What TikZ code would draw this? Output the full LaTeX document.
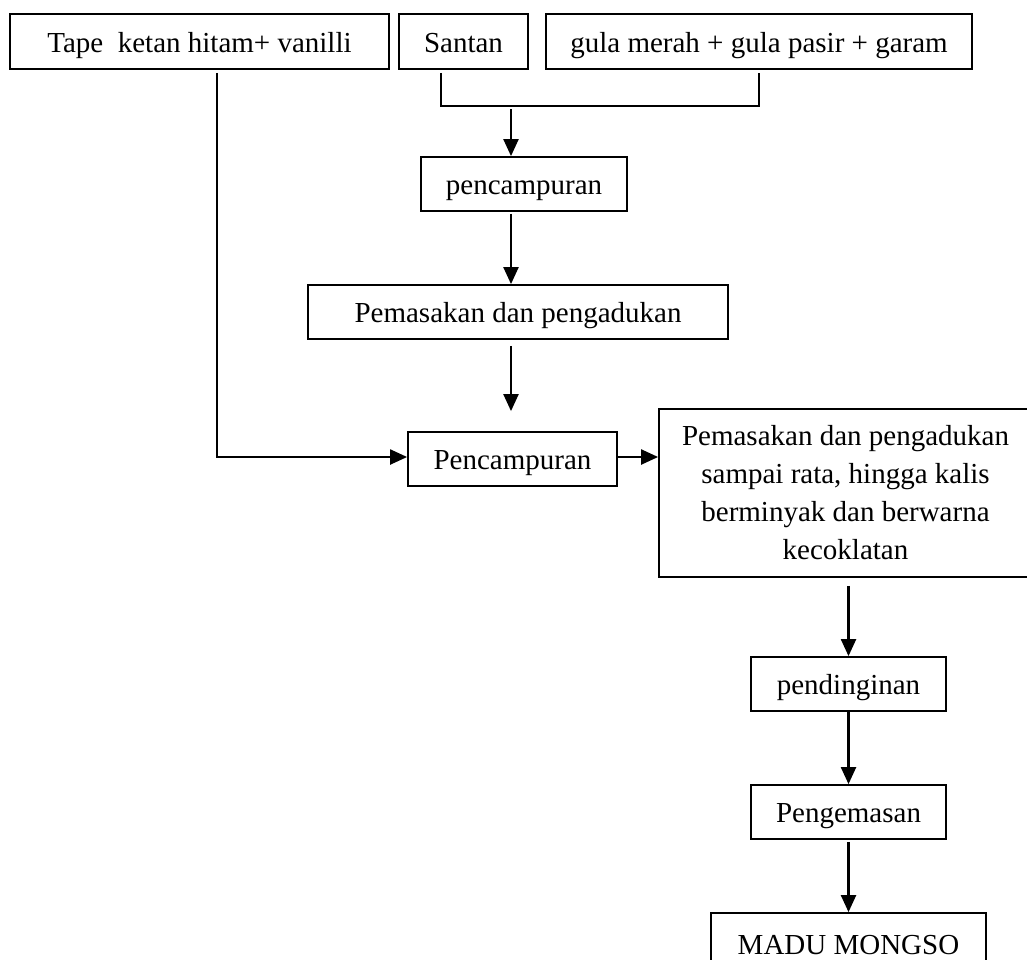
\documentclass[tikz,border=0pt]{standalone}
\usepackage{fontspec}
\setmainfont{Liberation Serif}
\usetikzlibrary{arrows.meta}

\begin{document}
\begin{tikzpicture}[
    x=1pt, y=-1pt,
    every node/.style={font=\fontsize{29}{38}\selectfont},
    box/.style={
        rectangle,
        draw,
        line width=1.8pt,
        inner sep=0pt,
        text height=22pt,
        text depth=1pt,
        minimum height=54pt
    },
    flow/.style={
        line width=2.2pt,
        -{Triangle[length=17pt,width=15pt]}
    },
    link/.style={
        line width=2.2pt
    }
]

    \useasboundingbox (0,0) rectangle (1027,959);

    % Ingredients
    \node[box, minimum width=379pt, minimum height=55pt] (tape) at (199.5,41.5) {Tape\ \ ketan hitam+ vanilli};
    \node[box, minimum width=129pt, minimum height=55pt] (santan) at (463.5,41.5) {Santan};
    \node[box, minimum width=426pt, minimum height=55pt] (gula) at (759,41.5) {gula merah + gula pasir + garam};

    % Process steps
    \node[box, minimum width=206pt] (mixA) at (524,184) {pencampuran};
    \node[box, minimum width=420pt] (cookA) at (518,312) {Pemasakan dan pengadukan};
    \node[box, minimum width=209pt] (mixB) at (512.5,459) {Pencampuran};
    \node[box, text height=, text depth=, minimum width=373pt, minimum height=168pt, align=center] (cookB) at (845.5,493)
        {Pemasakan dan pengadukan\\sampai rata, hingga kalis\\berminyak dan berwarna\\kecoklatan};
    \node[box, minimum width=195pt] (cool) at (848.5,684) {pendinginan};
    \node[box, minimum width=195pt] (pack) at (848.5,812) {Pengemasan};
    \node[box, minimum width=275pt, minimum height=62pt] (madu) at (848.5,944) {MADU MONGSO};

    % Joining santan and gula
    \coordinate (join) at (511,106);
    \draw[link] ([xshift=-22.5pt,yshift=-3pt]santan.south) |- (join) -| ([yshift=-3pt]gula.south);

    % Edges
    \draw[flow] ([yshift=-3pt]join) -- (join |- mixA.north);
    \draw[flow] ([yshift=-2pt]join |- mixA.south) -- (join |- cookA.north);
    \draw[flow] ([yshift=-6pt]join |- cookA.south) -- ([yshift=20pt]join |- mixB.north);
    \draw[flow] ([xshift=17.5pt,yshift=-3pt]tape.south) |- ([yshift=2pt]mixB.west);
    \draw[flow] ([yshift=2pt]mixB.east) -- ([yshift=2pt]mixB.east -| cookB.west);
    \draw[flow] ([yshift=-8pt]cool.north |- cookB.south) -- (cool.north);
    \draw[flow] (cool.south) -- (pack.north);
    \draw[flow] ([yshift=-2pt]pack.south) -- (madu.north);

\end{tikzpicture}
\end{document}
